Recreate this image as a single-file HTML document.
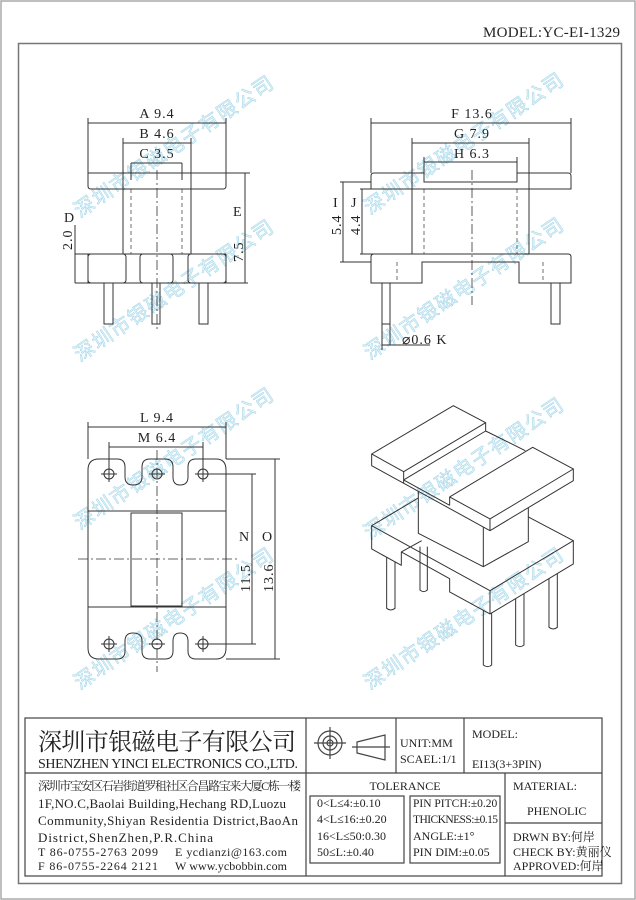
<!DOCTYPE html>
<html><head><meta charset="utf-8"><style>
html,body{margin:0;padding:0;background:#fff;}
svg{display:block;}
text{font-family:"Liberation Serif","Noto Serif CJK SC","Noto Sans CJK SC",serif;fill:#222;}
.wm{font-family:"Noto Sans CJK SC","WenQuanYi Zen Hei",sans-serif;fill:#e4f4fa;stroke:#9fd3e6;stroke-width:0.5;font-size:20px;}
</style></head><body>
<svg width="636" height="900" viewBox="0 0 636 900" xmlns="http://www.w3.org/2000/svg">
<rect x="1" y="1" width="634" height="898" fill="none" stroke="#aaa" stroke-width="1.5"/>
<text x="483" y="37" font-size="15" textLength="137">MODEL:YC-EI-1329</text>
<rect x="18.5" y="43.5" width="603" height="840" fill="none" stroke="#777" stroke-width="1.5"/>

<g>
<text class="wm" transform="translate(80,218) rotate(-34)" textLength="235">深圳市银磁电子有限公司</text>
<text class="wm" transform="translate(80,362) rotate(-34)" textLength="235">深圳市银磁电子有限公司</text>
<text class="wm" transform="translate(80,530) rotate(-34)" textLength="235">深圳市银磁电子有限公司</text>
<text class="wm" transform="translate(80,690) rotate(-34)" textLength="235">深圳市银磁电子有限公司</text>
<text class="wm" transform="translate(370,215) rotate(-34)" textLength="235">深圳市银磁电子有限公司</text>
<text class="wm" transform="translate(370,360) rotate(-34)" textLength="235">深圳市银磁电子有限公司</text>
<text class="wm" transform="translate(370,540) rotate(-34)" textLength="235">深圳市银磁电子有限公司</text>
<text class="wm" transform="translate(370,690) rotate(-34)" textLength="235">深圳市银磁电子有限公司</text>
</g>

<g fill="none" stroke="#333" stroke-width="1">
<!-- TOP LEFT VIEW -->
<path d="M88,173 H226 V186 Q226,189 223,189 H91 Q88,189 88,186 Z"/>
<path d="M123,189 V254 M191,189 V254"/>
<path d="M131,163 V180 M182,163 V180" />
<path d="M131,189 V254 M182,189 V254" stroke-dasharray="4,3" stroke-width="0.7"/>
<path d="M157,170 V330" stroke-dasharray="10,3,2,3" stroke-width="0.8"/>
<path d="M75,254 H226 M88,254 V283 M226,254 V283"/>
<rect x="88" y="254" width="38" height="29" rx="3"/>
<rect x="140" y="254" width="33" height="29" rx="3"/>
<rect x="188" y="254" width="38" height="29" rx="3"/>
<path d="M75,283 H248"/>
<rect x="104" y="283" width="9" height="41"/>
<rect x="152" y="283" width="8" height="41"/>
<rect x="199" y="283" width="9" height="41"/>
<path d="M88,118 V173 M226,118 V173 M88,123 H226"/>
<path d="M123,138 V189 M191,138 V189 M123,143 H191"/>
<path d="M131,163 H182"/>
<path d="M226,173 H250 M245,173 V283"/>
<path d="M75,225 V283"/>

<!-- TOP RIGHT VIEW -->
<path d="M371,189 V176 Q371,173 374,173 H424 V182 H517 V173 H568 Q571,173 571,176 V189 Z"/>
<path d="M424,157 V182 M517,157 V182"/>
<path d="M412,138 V254 M529,138 V254"/>
<path d="M424,189 V254 M517,189 V254 M397,262 V283 M543,262 V283" stroke-dasharray="4,3" stroke-width="0.7"/>
<path d="M472,170 V305" stroke-dasharray="10,3,2,3" stroke-width="0.8"/>
<path d="M374,254 H568 Q571,254 571,257 V283 H519 V262 H422 V283 H371 V257 Q371,254 374,254 Z"/>
<rect x="382" y="283" width="8" height="41"/>
<rect x="551" y="283" width="9" height="41"/>
<path d="M382,324 V350 M390,324 V345 M382,345 H430"/>
<path d="M371,118 V173 M571,118 V173 M371,123 H571"/>
<path d="M412,143 H529"/>
<path d="M424,162 H517"/>
<path d="M340,182 H371 M340,262 H371 M343,182 V262"/>
<path d="M360,189 H412 M360,254 H412 M362,189 V254"/>

<!-- BOTTOM LEFT VIEW -->
<path d="M88,470 Q88,459 99,459 H117 Q125,459 125,467 V477 Q125,485 133,485 Q142,485 142,477 V467 Q142,459 150,459 H165 Q173,459 173,467 V477 Q173,485 180,485 Q188,485 188,477 V467 Q188,459 196,459 H216 Q226,459 226,470 V648 Q226,659 216,659 H196 Q188,659 188,651 V641 Q188,633 180,633 Q173,633 173,641 V651 Q173,659 165,659 H150 Q142,659 142,651 V641 Q142,633 133,633 Q125,633 125,641 V651 Q125,659 117,659 H99 Q88,659 88,648 Z"/>
<path d="M88,511 H226 M88,607 H226"/>
<rect x="131" y="513" width="51" height="93"/>
<g>
<circle cx="109" cy="474" r="5"/><circle cx="157" cy="474" r="5"/><circle cx="203" cy="474" r="5"/>
<circle cx="109" cy="644" r="5"/><circle cx="157" cy="644" r="5"/><circle cx="203" cy="644" r="5"/>
<path d="M101,474 H117 M149,474 H165 M195,474 H211 M101,644 H117 M149,644 H165 M195,644 H211 M109,466 V482 M203,466 V482 M109,636 V652 M203,636 V652"/>
</g>
<path d="M157,450 V672 M78,559 H238" stroke-dasharray="10,3,2,3" stroke-width="0.8"/>
<path d="M88,422 V459 M226,422 V459 M88,427 H226"/>
<path d="M109,442 V470 M203,442 V470 M109,447 H203"/>
<path d="M208,474 H256 M208,644 H256 M252,474 V644"/>
<path d="M226,459 H280 M226,659 H280 M275,459 V659"/>

<!-- 3D VIEW -->
<g transform="translate(350,390) scale(0.3333)" stroke-width="3" stroke-linejoin="round">
<path d="M65,192 L310,47 L407,98 L161,245 Z"/>
<path d="M299,321 L548,172 L670,237 L420,387 Z"/>
<path d="M161,245 V270 L407,123 V98"/>
<path d="M161,270 L299,346"/>
<path d="M407,123 L526,182"/>
<path d="M65,192 V227 L420,422 L670,272 V237 M420,387 V422 M161,270 V280 M299,321 V346"/>
<path d="M205,304 V430 L400,530 L535,455 V353 M400,411 V530"/>
<path d="M205,324 L65,407 L420,602 L670,452 L535,381"/>
<path d="M65,407 V477 L154,526 V486 L299,566 V606 L420,672 L670,522 V452 M420,602 V672"/>
<path d="M154,486 L215,452"/>
<path d="M110,502 V655 Q122,665 135,655 V516"/>
<path d="M210,470 V600 Q221,610 232,600 V470"/>
<path d="M400,661 V825 Q413,835 425,825 V670"/>
<path d="M497,626 V765 Q510,775 522,765 V611"/>
<path d="M597,566 V712 Q610,722 622,712 V551"/>
</g>
</g>

<g font-size="14" letter-spacing="1">
<text x="157" y="118" text-anchor="middle">A 9.4</text>
<text x="157" y="138" text-anchor="middle">B 4.6</text>
<text x="157" y="158" text-anchor="middle">C 3.5</text>
<text x="233" y="216">E</text>
<text transform="translate(243,262) rotate(-90)">7.5</text>
<text x="64" y="222">D</text>
<text transform="translate(72,250) rotate(-90)">2.0</text>
<text x="472" y="118" text-anchor="middle">F 13.6</text>
<text x="472" y="138" text-anchor="middle">G 7.9</text>
<text x="472" y="158" text-anchor="middle">H 6.3</text>
<text x="333" y="207">I</text>
<text transform="translate(341,235) rotate(-90)">5.4</text>
<text x="351" y="207">J</text>
<text transform="translate(360,235) rotate(-90)">4.4</text>
<text x="402" y="344">⌀0.6 K</text>
<text x="157" y="422" text-anchor="middle">L 9.4</text>
<text x="157" y="442" text-anchor="middle">M 6.4</text>
<text x="239" y="541">N</text>
<text transform="translate(250,592) rotate(-90)">11.5</text>
<text x="262" y="541">O</text>
<text transform="translate(273,592) rotate(-90)">13.6</text>
</g>

<!-- TITLE BLOCK -->
<g fill="none" stroke="#444" stroke-width="1.2">
<rect x="25" y="718" width="577" height="158"/>
<path d="M25,773 H602 M306,718 V876 M396,718 V773 M464,718 V773 M505,773 V876 M505,823 H602"/>
<rect x="310" y="796" width="94" height="67"/>
<rect x="410" y="796" width="90" height="67"/>
<circle cx="330" cy="743" r="12"/><circle cx="330" cy="743" r="7"/><circle cx="330" cy="743" r="3"/>
<path d="M314,743 H346 M330,727 V759"/>
<path d="M357,742 L385,735 V760 L357,753 Z M352,747 H390"/>
</g>
<text x="38" y="750" font-size="24" textLength="258" font-family="'Noto Serif CJK SC','Noto Sans CJK SC',serif">深圳市银磁电子有限公司</text>
<text x="38" y="768" font-size="14" textLength="260">SHENZHEN YINCI ELECTRONICS CO.,LTD.</text>
<g font-size="12">
<text x="38" y="790" textLength="263" font-family="'Noto Serif CJK SC','Noto Sans CJK SC',serif">深圳市宝安区石岩街道罗租社区合昌路宝来大厦C栋一楼</text>
<text x="38" y="808" font-size="13" textLength="248">1F,NO.C,Baolai Building,Hechang RD,Luozu</text>
<text x="38" y="825" font-size="13" textLength="260">Community,Shiyan Residentia District,BaoAn</text>
<text x="38" y="842" font-size="13" textLength="175">District,ShenZhen,P.R.China</text>
<text x="38" y="856" textLength="120">T 86-0755-2763 2099</text>
<text x="175" y="856" textLength="112">E ycdianzi@163.com</text>
<text x="38" y="870" textLength="120">F 86-0755-2264 2121</text>
<text x="175" y="870" textLength="112">W www.ycbobbin.com</text>
<text x="400" y="747">UNIT:MM</text>
<text x="400" y="763">SCAEL:1/1</text>
<text x="472" y="738">MODEL:</text>
<text x="472" y="768">EI13(3+3PIN)</text>
<text x="405" y="790" text-anchor="middle">TOLERANCE</text>
<text x="317" y="807">0&lt;L≤4:±0.10</text>
<text x="317" y="823">4&lt;L≤16:±0.20</text>
<text x="317" y="840">16&lt;L≤50:0.30</text>
<text x="317" y="856">50≤L:±0.40</text>
<text x="413" y="807" font-size="11.5">PIN PITCH:±0.20</text>
<text x="413" y="823" font-size="11.5" textLength="85">THICKNESS:±0.15</text>
<text x="413" y="840">ANGLE:±1°</text>
<text x="413" y="856">PIN DIM:±0.05</text>
<text x="513" y="790">MATERIAL:</text>
<text x="527" y="815">PHENOLIC</text>
<text x="513" y="841">DRWN BY:何岸</text>
<text x="513" y="856">CHECK BY:黄丽仪</text>
<text x="513" y="870">APPROVED:何岸</text>
</g>
</svg>
</body></html>
